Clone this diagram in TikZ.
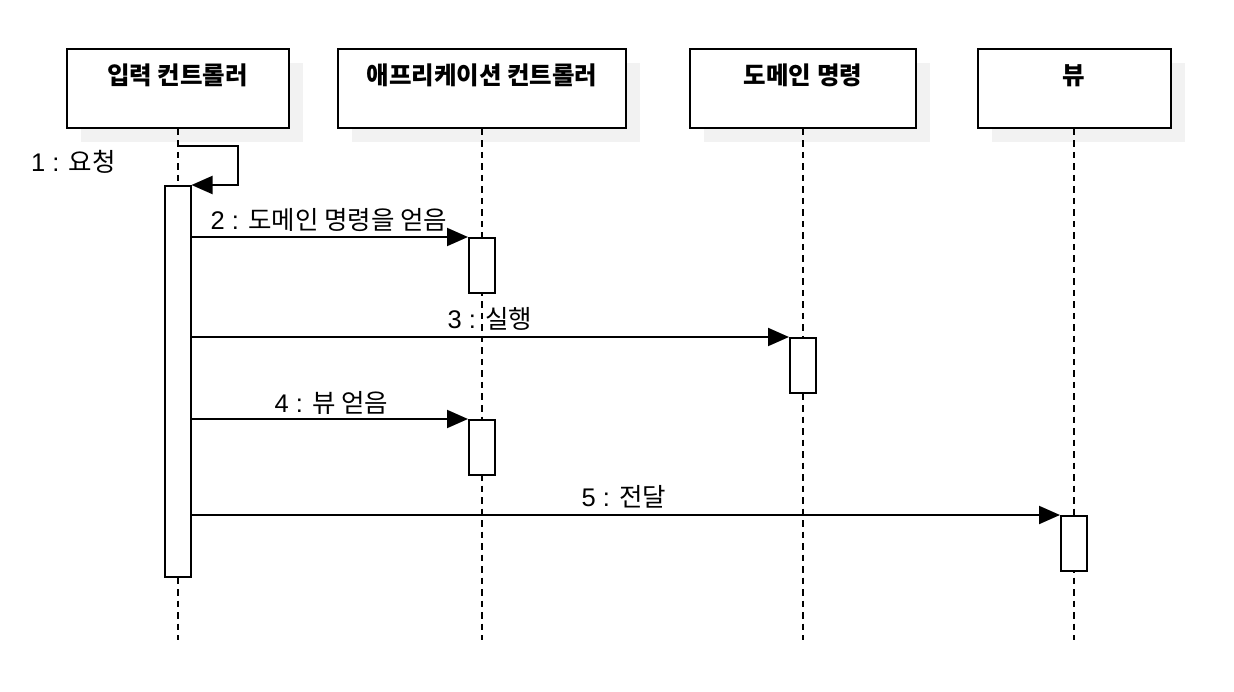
\documentclass[tikz,border=0pt]{standalone}
\usepackage{fontspec}
\setmainfont{Liberation Sans}
\newfontfamily\kr{Noto Sans CJK KR}
\usetikzlibrary{arrows.meta,shadows}
\definecolor{shadowgray}{HTML}{F2F2F2}
\begin{document}
\begin{tikzpicture}[x=1pt,y=-1pt,
  headbox/.style={draw, line width=2pt, fill=white, inner sep=0pt, minimum height=79pt,
    drop shadow={shadow xshift=14pt, shadow yshift=-14pt, fill=shadowgray, opacity=1}},
  headtext/.style={inner sep=0pt, anchor=base, font=\fontsize{24.5}{28}\selectfont\bfseries\kr},
  actbox/.style={draw, line width=2pt, fill=white, inner sep=0pt, minimum width=26pt},
  lifeline/.style={line width=2pt, dash pattern=on 6.5pt off 5pt},
  msg/.style={line width=2pt, -{Triangle[length=21pt,width=18pt]}},
  lbl/.style={inner sep=0pt, anchor=base, font=\fontsize{25.5}{29}\selectfont},
]
\useasboundingbox (0,0) rectangle (1234,692);
\fill[white] (0,0) rectangle (1234,692);

% header boxes
\node[headbox, minimum width=222pt] (h1) at (177.5,88.5) {};
\node[headbox, minimum width=288pt] (h2) at (482,88.5) {};
\node[headbox, minimum width=226pt] (h3) at (803,88.5) {};
\node[headbox, minimum width=193pt] (h4) at (1074,88.5) {};
\node[headtext] (t1) at (177.5,85) {입력 컨트롤러};
\node[headtext] (t2) at (482,85) {애프리케이션 컨트롤러};
\node[headtext] (t3) at (803,85) {도메인 명령};
\node[headtext] (t4) at (1074,85) {뷰};

% lifeline ends
\coordinate (e1) at (177.5,640);
\coordinate (e2) at (482,640);
\coordinate (e3) at (803,640);
\coordinate (e4) at (1074,640);
\draw[lifeline] (h1.south) -- (e1);
\draw[lifeline] (h2.south) -- (e2);
\draw[lifeline] (h3.south) -- (e3);
\draw[lifeline] (h4.south) -- (e4);

% activation bars
\node[actbox, minimum height=391pt] (a1) at (177.5,381.5) {};
\node[actbox, minimum height=55pt] (a2) at (482,265.5) {};
\node[actbox, minimum height=55pt] (a3) at (803,365.5) {};
\node[actbox, minimum height=55pt] (a4) at (482,447.5) {};
\node[actbox, minimum height=55pt] (a5) at (1074,543.5) {};

% self call
\coordinate (s0) at (177.5,146);
\draw[msg] (s0) -- ++(60.5,0) |- (a1.north east);
\node[lbl, anchor=base east] (l1) at (116,172) {1 : {\kr 요청}};

% messages
\draw[msg] (a1.east |- a2.north west) -- (a2.north west);
\node[lbl] (l2) at (329,230) {2 : {\kr 도메인 명령을 얻음}};
\draw[msg] (a1.east |- a3.north west) -- (a3.north west);
\node[lbl] (l3) at (490,329) {3 : {\kr 실행}};
\draw[msg] (a1.east |- a4.north west) -- (a4.north west);
\node[lbl] (l4) at (331.5,412.5) {4 : {\kr 뷰 얻음}};
\draw[msg] (a1.east |- a5.north west) -- (a5.north west);
\node[lbl] (l5) at (624,506.5) {5 : {\kr 전달}};
\end{tikzpicture}
\end{document}
